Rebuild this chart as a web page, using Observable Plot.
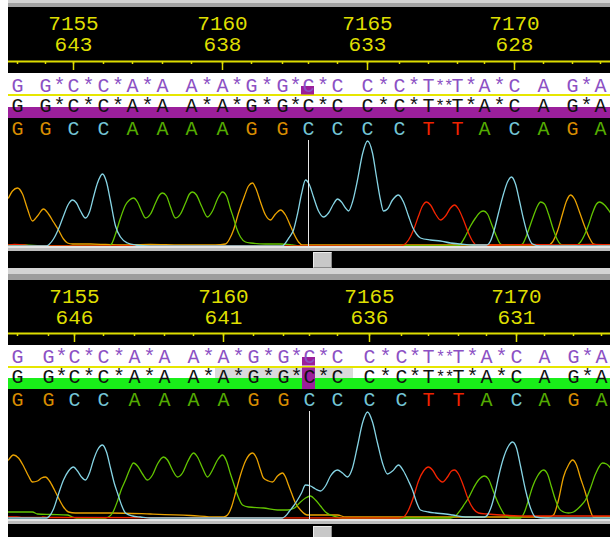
<!DOCTYPE html>
<html><head><meta charset="utf-8">
<script src="https://cdn.jsdelivr.net/npm/d3@7"></script>
<script src="https://cdn.jsdelivr.net/npm/@observablehq/plot@0.6"></script>
<style>
html,body{margin:0;padding:0;background:#000;}
#root{position:relative;width:610px;height:537px;overflow:hidden;background:#000;}
.blk{position:absolute;left:0;width:610px;overflow:hidden;}
.blk svg{display:block;}
</style></head><body><div id="root"></div>
<script>
// ---------- data ----------
const bases = "GGCCAAAAGGCCCCTTACAGA".split("");
const padsAfter = [0,1,1,1,1,0,1,1,1,1,1,0,1,1,2,1,1,0,0,1];
const labelBaseIdx = [2,7,12,17];
const consensusLabels = ["7155","7160","7165","7170"];
const topReadLabels = ["643","638","633","628"];
const bottomReadLabels = ["646","641","636","631"];
const topPeakPos = [17,45,73,103,132,162,191,222,251,282,308,337,367,399,428,457,484,514,543,572,600];
const bottomPeakPos = [17,48,74,103,134,164,193,223,253,283,309,337,369,401,428,458,486,516,544,573,601];
const cursorIdx = 10;
const selectionIdx = [7,11];

const topG = [[8,48],[12,55],[17,58],[22,52],[27,37],[32,25],[37,30],[43,37],[48,32],[53,24],[58,16],[63,7],[67,3],[72,2],[90,2],[105,1.5],[120,1],[150,1.5],[180,1],[215,1],[225,2],[229,7],[233,16],[238,33],[244,50],[248,60],[252,63],[256,56],[260,44],[265,31],[270,26],[275,32],[280,36],[285,31],[290,20],[294,11],[298,4],[302,1],[350,1],[420,1],[500,1],[548,1],[552,4],[557,15],[562,32],[566,45],[570,51],[574,47],[579,34],[584,20],[589,8],[593,2],[600,1],[610,1]];
const topC = [[8,0],[46,0],[49,2],[53,7],[58,17],[63,30],[68,42],[72,46],[76,43],[80,35],[85,28],[89,34],[93,49],[97,63],[102,72],[106,64],[110,45],[115,20],[120,9],[127,3],[135,1],[150,0],[282,0],[285,3],[289,9],[293,16],[297,32],[301,52],[305,66],[309,61],[313,49],[318,35],[323,29],[328,33],[333,42],[337,47],[341,44],[345,38],[348,35],[352,44],[357,66],[362,92],[367,105],[372,93],[376,69],[380,46],[383,35],[387,37],[392,46],[398,51],[403,44],[408,30],[412,19],[416,12],[420,8],[430,6],[440,5],[450,3],[460,2],[472,1],[486,1],[490,5],[494,17],[498,33],[503,52],[507,64],[511,69],[515,62],[519,45],[523,27],[527,12],[532,2],[540,0],[610,0]];
const topA = [[8,1],[25,1],[40,0],[108,0],[111,2],[115,12],[120,28],[125,41],[129,46],[133,48],[137,44],[141,35],[145,28],[150,32],[155,43],[159,51],[162,53],[166,50],[170,39],[175,28],[180,32],[185,43],[189,52],[192,54],[196,51],[201,40],[207,29],[212,35],[217,47],[222,54],[226,50],[230,37],[233,28],[236,18],[240,9],[245,4],[250,3],[265,2],[280,2],[292,1],[300,0],[456,0],[460,2],[465,10],[470,20],[475,28],[480,34],[483,35],[487,32],[491,22],[495,12],[500,2],[505,0],[518,0],[522,2],[527,13],[533,30],[537,40],[540,44],[544,42],[548,32],[553,16],[557,6],[562,1],[576,1],[580,4],[584,11],[588,21],[592,33],[596,42],[599,44],[604,41],[610,33]];
const topT = [[8,1],[14,1.5],[24,1],[30,0],[399,0],[403,1],[408,6],[413,16],[418,30],[422,40],[426,44],[430,41],[435,32],[440,26],[445,30],[450,38],[454,41],[458,37],[463,26],[468,13],[472,5],[476,1],[500,1],[530,1.5],[560,1],[590,1.5],[610,1]];

const bottomG = [[8,58],[13,63],[18,60],[23,52],[28,42],[32,36],[37,37],[41,40],[45,41],[49,37],[54,28],[58,20],[63,11],[68,6],[75,5],[110,5],[150,4],[190,2.5],[215,1],[223,1],[227,3],[231,11],[235,25],[240,43],[245,57],[252,65],[256,60],[260,48],[263,40],[268,37],[272,36],[277,42],[282,45],[285,41],[288,33],[291,25],[295,15],[300,8],[307,3],[337,3],[345,1],[400,1],[470,1],[548,1],[553,3],[558,18],[563,41],[568,53],[572,58],[576,53],[580,40],[585,25],[589,10],[593,1],[610,1]];
const bottomC = [[8,0],[46,0],[49,2],[53,9],[58,24],[63,38],[68,47],[73,51],[77,47],[81,41],[85,38],[89,45],[93,58],[97,68],[102,73],[106,66],[110,50],[114,34],[117,25],[121,13],[125,5],[132,2],[140,1],[150,0],[282,0],[285,2],[289,7],[293,12],[297,18],[301,25],[305,33],[310,32],[315,29],[320,27],[325,32],[330,42],[337,48],[342,45],[347,41],[352,50],[357,72],[362,95],[367,106],[372,96],[377,75],[382,55],[387,44],[392,47],[398,53],[403,47],[408,37],[412,28],[416,16],[420,8],[428,6],[435,5],[445,4],[452,3],[465,1],[484,1],[487,3],[491,12],[495,27],[498,41],[503,60],[508,72],[512,76],[516,70],[520,52],[525,28],[530,10],[535,1],[545,0],[610,0]];
const bottomA = [[8,6],[20,6],[32,6],[37,4],[50,3.5],[67,3],[72,1],[76,0],[105,0],[108,1],[112,5],[117,17],[121,29],[125,38],[129,48],[133,55],[137,52],[142,44],[147,38],[152,43],[157,54],[163,61],[167,58],[172,48],[177,41],[182,45],[187,56],[193,65],[197,61],[202,50],[207,41],[212,48],[217,58],[222,63],[226,57],[230,44],[233,35],[237,23],[242,13],[248,11],[263,10],[277,8],[287,8],[294,10],[299,15],[305,20],[310,22],[315,18],[320,12],[325,6],[330,3],[336,1],[342,0],[450,0],[455,2],[460,8],[464,14],[468,20],[473,30],[478,38],[484,42],[488,39],[492,29],[495,21],[500,10],[505,2],[510,0],[520,0],[524,6],[528,18],[532,31],[537,42],[543,48],[547,44],[551,31],[555,18],[559,9],[563,6],[568,5],[573,6],[577,9],[581,13],[585,18],[590,30],[595,44],[602,55],[606,54],[610,50]];
const bottomT = [[8,1],[16,1],[22,0.5],[40,0.5],[42,1],[48,0.5],[398,0],[403,1],[408,8],[413,21],[418,37],[423,47],[428,51],[432,48],[437,40],[442,36],[447,41],[451,47],[454,48],[458,44],[463,32],[468,18],[473,9],[478,5],[487,4],[500,3],[530,2],[560,2],[610,2]];

// ---------- styling ----------
const YEL = "#dede00";
const TRACE_COLORS = {G:"#eaa200", A:"#62c400", T:"#f42400", C:"#86d4e4"};
const CALL_COLORS = {G:"#d88c00", A:"#54ac00", T:"#ee2200", C:"#74c6d6"};
const MONO = "Liberation Mono, DejaVu Sans Mono, monospace";
const root = document.getElementById("root");
const xScale = {type:"linear", domain:[0,610], range:[0,610], label: null};

function block(top, height, bg) {
  const d = document.createElement("div");
  d.className = "blk";
  d.style.top = top + "px";
  d.style.height = height + "px";
  if (bg) d.style.background = bg;
  root.appendChild(d);
  return d;
}

function alignmentTokens(pos, row) {
  const out = [];
  bases.forEach((b, i) => {
    out.push({x: pos[i], ch: b, row, size: 20});
    if (i < bases.length - 1) {
      const k = padsAfter[i];
      for (let j = 1; j <= k; j++) {
        const f = k === 1 ? 0.5 : (j === 1 ? 0.4 : 0.7);
        out.push({x: pos[i] + (pos[i+1]-pos[i]) * f, ch: "*", row, size: k === 1 ? 20 : 16});
      }
    }
  });
  return out;
}

function panel(cfg) {
  const pos = cfg.pos;
  // ruler
  const rulerDiv = block(cfg.rulerTop, cfg.rulerH, "#000");
  const labels = labelBaseIdx.map((bi, k) => ({x: pos[bi], a: consensusLabels[k], b: cfg.readLabels[k]}));
  rulerDiv.appendChild(Plot.plot({
    width: 610, height: cfg.rulerH,
    marginTop: 0, marginLeft: 0, marginRight: 0, marginBottom: cfg.rulerH - cfg.axisRel,
    x: xScale, y: {domain:[0,1], axis: null},
    style: {background: "#000", color: YEL},
    marks: [
      Plot.ruleY([0], {stroke: YEL, strokeWidth: 2}),
      Plot.axisX(pos, {anchor: "bottom", label: null, tickSize: 3, stroke: YEL, strokeWidth: 1.5, tickFormat: () => ""}),
      Plot.axisX(labelBaseIdx.map(i => pos[i]), {anchor: "bottom", label: null, tickSize: 9, stroke: YEL, strokeWidth: 1.5, tickFormat: () => ""}),
      Plot.text(labels, {x: "x", text: "a", frameAnchor: "top", dy: 15.5, lineAnchor: "middle", fill: YEL, fontFamily: MONO, fontSize: 21}),
      Plot.text(labels, {x: "x", text: "b", frameAnchor: "top", dy: 37, lineAnchor: "middle", fill: YEL, fontFamily: MONO, fontSize: 21})
    ]
  }));

  // rows
  const H = cfg.rowsH;
  const rowsDiv = block(cfg.rowsTop, H, cfg.rowsBg);
  const cx = pos[cursorIdx];
  const bars = [];
  if (cfg.selection) {
    bars.push(Plot.barX([{x1: pos[selectionIdx[0]] - 8, x2: (pos[selectionIdx[1]] + pos[selectionIdx[1]+1]) / 2, row: "read"}],
      {x1: "x1", x2: "x2", y: "row", fill: "#dadada", insetTop: 1, insetBottom: 11}));
  }
  bars.push(Plot.barX([{x1: cx - 7, x2: cx + 6, row: "ref"}], {x1: "x1", x2: "x2", y: "row", fill: "#9b1f9b", insetTop: 12, insetBottom: 1.5}));
  if (cfg.cursorRead) {
    bars.push(Plot.barX([{x1: cx - 7, x2: cx + 6, row: "read"}], {x1: "x1", x2: "x2", y: "row", fill: "#9b1f9b", insetTop: 0.5}));
  }
  rowsDiv.appendChild(Plot.plot({
    width: 610, height: H, margin: 0,
    x: {...xScale, axis: null},
    y: {type: "band", domain: ["ref","read","call"], range: [0, H], padding: 0, axis: null},
    color: {domain: Object.keys(CALL_COLORS), range: Object.values(CALL_COLORS)},
    style: {background: "none"},
    marks: [
      ...bars,
      Plot.text(alignmentTokens(pos, "ref"), {x: "x", y: "row", text: "ch", fill: "#8c50c4", fontFamily: MONO, fontSize: "size", lineAnchor: "middle"}),
      Plot.text(alignmentTokens(pos, "read"), {x: "x", y: "row", text: "ch", fill: "#111", fontFamily: MONO, fontSize: "size", lineAnchor: "middle", dy: -2}),
      Plot.text(bases.map((b, i) => ({x: pos[i], ch: b, row: "call"})), {x: "x", y: "row", text: "ch", fill: "ch", fontFamily: MONO, fontSize: 20, lineAnchor: "middle", dy: -1})
    ]
  }));

  // traces
  const tr = [];
  for (const [base, arr] of Object.entries(cfg.traces)) arr.forEach(([x, h]) => tr.push({base, x, h}));
  const traceDiv = block(cfg.traceTop, cfg.traceH, "#000");
  traceDiv.appendChild(Plot.plot({
    width: 610, height: cfg.traceH, margin: 0,
    x: {...xScale, axis: null},
    y: {domain: cfg.yDomain, range: cfg.yRange, axis: null},
    color: {domain: Object.keys(TRACE_COLORS), range: Object.values(TRACE_COLORS)},
    style: {background: "#000"},
    marks: [
      Plot.line(tr, {x: "x", y: "h", z: "base", stroke: "base", strokeWidth: 1.3, curve: "monotone-x"}),
      Plot.ruleX([cx], {stroke: "#e8e8e8", strokeWidth: 1})
    ]
  }));
}

// gray bar at very top
block(0, 3, "#d2d2d2");
block(3, 4, "#a2a2a2");

panel({
  pos: topPeakPos, readLabels: topReadLabels,
  rulerTop: 7, rulerH: 66, axisRel: 54,
  rowsTop: 73, rowsH: 67,
  rowsBg: "linear-gradient(to bottom, #fff 0px, #fff 21px, #e6e600 21px, #e6e600 23px, #fff 23px, #fff 34px, #9b1f9b 34px, #9b1f9b 45px, #000 45px, #000 67px)",
  selection: false, cursorRead: false,
  traceTop: 140, traceH: 106, yDomain: [0,105], yRange: [105.5, 0.5],
  traces: {G: topG, A: topA, T: topT, C: topC}
});

// separator between panels
block(246, 2, "#e4e4e4");
block(248, 3, "#bdbdbd");
block(268, 6, "#d4d4d4");
block(274, 6, "#9d9d9d");
function thumb(top, h) {
  const t = document.createElement("div");
  t.style.cssText = `position:absolute;left:313px;top:${top}px;width:17px;height:${h}px;background:#c8c8c8;border-top:1px solid #ececec;border-left:1px solid #ececec;border-right:1px solid #8a8a8a;border-bottom:1px solid #8a8a8a;`;
  root.appendChild(t);
}
thumb(252, 14);

panel({
  pos: bottomPeakPos, readLabels: bottomReadLabels,
  rulerTop: 280, rulerH: 65, axisRel: 53,
  rowsTop: 345, rowsH: 66,
  rowsBg: "linear-gradient(to bottom, #fff 0px, #fff 21px, #e6e600 21px, #e6e600 23px, #fff 23px, #fff 33px, #19ee19 33px, #19ee19 44px, #000 44px, #000 66px)",
  selection: true, cursorRead: true,
  traceTop: 411, traceH: 108, yDomain: [0,106], yRange: [106.5, 0.5],
  traces: {G: bottomG, A: bottomA, T: bottomT, C: bottomC}
});

block(519, 2, "#e4e4e4");
block(521, 3, "#bdbdbd");
thumb(526, 12);

// left white strip
const ws = document.createElement("div");
ws.style.cssText = "position:absolute;left:0;top:0;width:8px;height:537px;background:#fff;z-index:5;";
root.appendChild(ws);
</script>
</body></html>
